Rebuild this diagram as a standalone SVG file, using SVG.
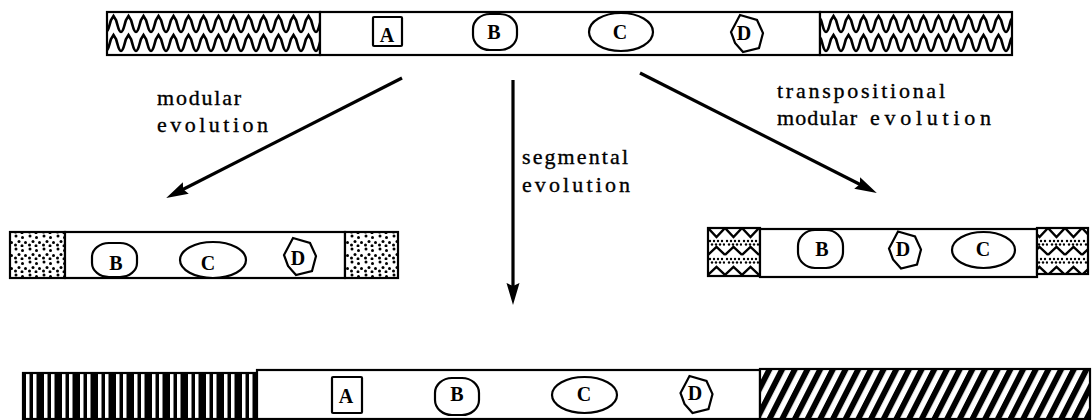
<svg xmlns="http://www.w3.org/2000/svg" xmlns:xlink="http://www.w3.org/1999/xlink" width="1092" height="420" viewBox="0 0 1092 420">
<style>
.bar{fill:#fff;stroke:#000;stroke-width:2.2}
.blk{stroke:#000;stroke-width:2.2}
.sh{fill:#fff;stroke:#000;stroke-width:2.2}
.lt{font-family:"Liberation Serif","Times New Roman",serif;font-weight:bold;font-size:20px;text-anchor:middle;fill:#000}
.lab{font-family:"Liberation Serif","Times New Roman",serif;font-size:22px;fill:#000;stroke:#000;stroke-width:0.35}
.arr{stroke:#000;stroke-width:3.2;fill:none;marker-end:url(#ah)}
</style>
<defs>
<marker id="ah" markerUnits="userSpaceOnUse" markerWidth="26" markerHeight="16" viewBox="-2 -8 26 16" refX="10" refY="0" orient="auto">
<path d="M0,-6.5 L22,0 L0,6.5 L3,0 Z" fill="#000"/>
</marker>
<pattern id="wave" patternUnits="userSpaceOnUse" x="106" y="12" width="15" height="43">
<rect width="15" height="43" fill="#fff"/>
<path d="M0,20 C2.5,20 3.5,12 5,8 L7.5,4 L10,8 C11.5,12 12.5,20 15,20 M0,39 C2.5,39 3.5,31 5,27 L7.5,23 L10,27 C11.5,31 12.5,39 15,39" fill="none" stroke="#000" stroke-width="2.6"/>
</pattern>
<pattern id="dots" patternUnits="userSpaceOnUse" width="14" height="13">
<rect width="14" height="13" fill="#fff"/>
<g fill="#000">
<circle cx="2" cy="2" r="1.5"/><circle cx="8.5" cy="3.5" r="1.5"/><circle cx="5" cy="7.5" r="1.5"/>
<circle cx="11.5" cy="8.5" r="1.5"/><circle cx="1.5" cy="11" r="1.5"/><circle cx="8" cy="11.8" r="1.5"/>
</g>
</pattern>
<pattern id="zig" patternUnits="userSpaceOnUse" x="708" y="228" width="17" height="48">
<rect width="17" height="48" fill="#fff"/>
<path d="M0,0 L8.5,9 L17,0 M0,27 L8.5,19 L17,27 M0,47 L8.5,39 L17,47" fill="none" stroke="#000" stroke-width="2.4"/>
<g fill="#000">
<circle cx="2" cy="13" r="1.2"/><circle cx="6" cy="13" r="1.2"/><circle cx="10" cy="13" r="1.2"/><circle cx="14" cy="13" r="1.2"/>
<circle cx="4" cy="16.5" r="1.2"/><circle cx="8" cy="16.5" r="1.2"/><circle cx="12" cy="16.5" r="1.2"/><circle cx="16" cy="16.5" r="1.2"/>
<circle cx="2" cy="31" r="1.2"/><circle cx="6" cy="31" r="1.2"/><circle cx="10" cy="31" r="1.2"/><circle cx="14" cy="31" r="1.2"/>
<circle cx="4" cy="34.5" r="1.2"/><circle cx="8" cy="34.5" r="1.2"/><circle cx="12" cy="34.5" r="1.2"/><circle cx="16" cy="34.5" r="1.2"/>
</g>
</pattern>
<pattern id="vstripe" patternUnits="userSpaceOnUse" x="23" y="0" width="18" height="10">
<rect width="18" height="10" fill="#000"/>
<rect x="3" width="3.5" height="10" fill="#fff"/>
<rect x="10" width="3.5" height="10" fill="#fff"/>
</pattern>
<pattern id="hatch" patternUnits="userSpaceOnUse" x="760" y="369" width="11.3" height="10" patternTransform="rotate(27)">
<rect width="11.3" height="10" fill="#fff"/>
<rect width="5.8" height="10" fill="#000"/>
</pattern>
<rect id="boxA" x="-14.5" y="-14.5" width="29" height="29" rx="1"/>
<polygon id="hepD" points="-7,-18 10,-13 16,0 12,15 -4,19 -12,10 -16,-1"/>
</defs>
<rect width="1092" height="420" fill="#fff"/>

<g id="connectors">
<line class="arr" x1="402" y1="78" x2="176.9" y2="192.5"/>
<line class="arr" x1="513" y1="80" x2="513" y2="293"/>
<line class="arr" x1="640" y1="73" x2="866.1" y2="187.5"/>
</g>

<g id="labels">
<text class="lab" x="157" y="105" textLength="84" lengthAdjust="spacing">modular</text>
<text class="lab" x="157" y="132" textLength="111" lengthAdjust="spacing">evolution</text>
<text class="lab" x="522" y="164" textLength="106" lengthAdjust="spacing">segmental</text>
<text class="lab" x="522" y="192" textLength="108" lengthAdjust="spacing">evolution</text>
<text class="lab" x="777" y="98" textLength="168" lengthAdjust="spacing">transpositional</text>
<text class="lab" x="777" y="125" textLength="80" lengthAdjust="spacing">modular</text>
<text class="lab" x="870" y="125" textLength="121" lengthAdjust="spacing">evolution</text>
</g>

<g id="ancestral">
<rect class="blk" x="107" y="12" width="213" height="43" fill="url(#wave)"/>
<rect class="bar" x="320" y="12" width="500" height="43"/>
<rect class="blk" x="820" y="12" width="192" height="43" fill="url(#wave)"/>
<use xlink:href="#boxA" class="sh" x="387.5" y="31.5"/>
<text class="lt" x="387" y="42">A</text>
<rect class="sh" x="473" y="14" width="44" height="36" rx="17" ry="15"/>
<text class="lt" x="494" y="39">B</text>
<ellipse class="sh" cx="621" cy="32" rx="32" ry="19"/>
<text class="lt" x="620" y="39">C</text>
<use xlink:href="#hepD" class="sh" x="747" y="33"/>
<text class="lt" x="744" y="40">D</text>
</g>

<g id="modular">
<rect class="blk" x="10" y="232" width="55" height="46" fill="url(#dots)"/>
<rect class="bar" x="65" y="232" width="280" height="46"/>
<rect class="blk" x="345" y="232" width="53" height="46" fill="url(#dots)"/>
<rect class="sh" x="92" y="243" width="45" height="34" rx="17" ry="14"/>
<text class="lt" x="116" y="270">B</text>
<ellipse class="sh" cx="213" cy="260" rx="33" ry="18"/>
<text class="lt" x="208" y="270">C</text>
<use xlink:href="#hepD" class="sh" x="300" y="256"/>
<text class="lt" x="298" y="265">D</text>
</g>

<g id="transpositional">
<rect class="blk" x="708" y="228" width="52" height="48" fill="url(#zig)"/>
<rect class="bar" x="760" y="229" width="277" height="48"/>
<rect class="blk" x="1037" y="228" width="51" height="46" fill="url(#zig)"/>
<rect class="sh" x="798" y="230" width="45" height="38" rx="17" ry="16"/>
<text class="lt" x="822" y="256">B</text>
<use xlink:href="#hepD" class="sh" x="905" y="249.5"/>
<text class="lt" x="903" y="256">D</text>
<ellipse class="sh" cx="983.5" cy="250" rx="31.5" ry="18"/>
<text class="lt" x="983" y="256">C</text>
</g>

<g id="segmental">
<rect class="blk" x="23" y="373" width="234" height="46" fill="url(#vstripe)"/>
<rect class="bar" x="257" y="370" width="503" height="49"/>
<rect class="blk" x="760" y="369" width="330" height="50" fill="url(#hatch)"/>
<rect class="sh" x="332" y="377" width="30" height="36" rx="1"/>
<text class="lt" x="346" y="403">A</text>
<rect class="sh" x="435" y="378" width="44" height="37" rx="17" ry="15"/>
<text class="lt" x="457" y="401">B</text>
<ellipse class="sh" cx="584.5" cy="395" rx="32.5" ry="18"/>
<text class="lt" x="584" y="401">C</text>
<use xlink:href="#hepD" class="sh" x="696.5" y="394"/>
<text class="lt" x="695" y="400">D</text>
</g>
</svg>
